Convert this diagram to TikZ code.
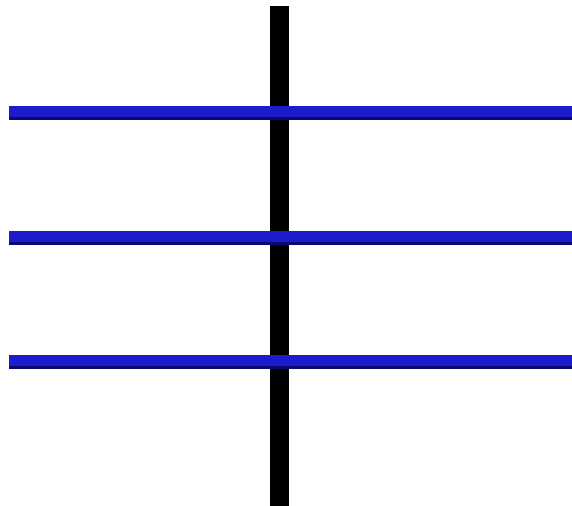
\documentclass[tikz,border=0pt]{standalone}
\definecolor{barblue}{RGB}{28,28,205}
\definecolor{bardark}{RGB}{10,10,110}

\begin{document}
\begin{tikzpicture}[x=0.02cm, y=-0.02cm]

    % Frame
    \useasboundingbox (0,0) rectangle (572,506);

    % Mast
    \fill[black] (270,6) rectangle (289,506);

    % Cross bars
    \foreach \yb in {113, 238, 362} {
        \fill[bardark] (9,\yb-3) rectangle (572,\yb+7);
        \fill[barblue] (9,\yb-7) rectangle (572,\yb+4);
    }
\end{tikzpicture}
\end{document}
